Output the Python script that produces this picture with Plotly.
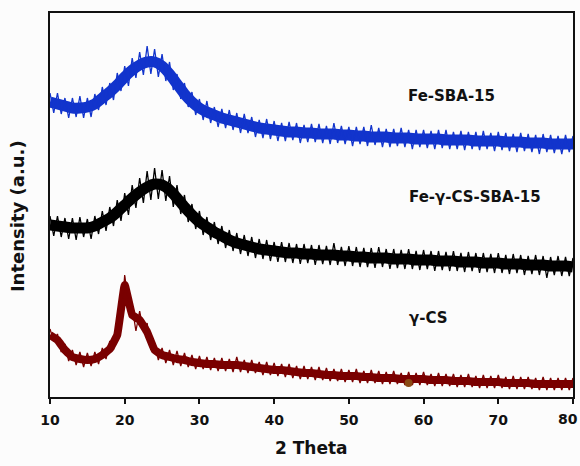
import plotly.graph_objects as go

# measured noisy traces, 0.5 degree steps
two_theta = [10 + 0.5 * i for i in range(141)]

fe_sba15 = [
    304, 284, 304, 283, 299, 279, 299, 280, 301, 279, 299, 280, 303, 287, 310, 292,
    314, 297, 324, 306, 331, 311, 339, 319, 345, 322, 351, 323, 348, 320, 343, 316,
    335, 307, 323, 298, 314, 290, 305, 282, 298, 277, 296, 274, 290, 270, 288, 269,
    287, 267, 284, 264, 283, 264, 280, 260, 277, 259, 278, 258, 276, 256, 274, 256,
    275, 257, 274, 254, 272, 255, 273, 255, 273, 254, 271, 253, 274, 254, 271, 253,
    270, 251, 270, 253, 270, 251, 272, 252, 269, 250, 268, 250, 268, 251, 269, 250,
    267, 248, 267, 250, 267, 249, 266, 248, 267, 249, 267, 248, 265, 248, 266, 247,
    265, 248, 265, 247, 266, 248, 264, 246, 265, 247, 264, 246, 263, 245, 264, 246,
    263, 245, 262, 243, 263, 245, 262, 244, 261, 243, 262, 245, 261,
]

fe_cs_sba15 = [
    181, 161, 181, 160, 179, 158, 179, 157, 180, 160, 178, 158, 181, 163, 186, 166,
    190, 171, 197, 176, 204, 182, 212, 189, 219, 194, 226, 197, 229, 198, 227, 196,
    221, 190, 212, 183, 202, 175, 193, 168, 186, 162, 180, 157, 175, 153, 171, 149,
    167, 146, 164, 143, 162, 141, 160, 139, 158, 138, 157, 136, 155, 135, 155, 135,
    154, 134, 153, 133, 153, 134, 152, 132, 152, 133, 151, 132, 154, 132, 150, 131,
    151, 131, 150, 130, 149, 130, 149, 129, 150, 130, 148, 128, 148, 129, 147, 128,
    148, 128, 146, 127, 147, 128, 146, 126, 146, 127, 145, 126, 146, 126, 144, 125,
    145, 126, 144, 124, 144, 125, 143, 124, 144, 124, 142, 123, 143, 124, 142, 122,
    141, 123, 142, 122, 141, 119, 140, 122, 141, 121, 140, 121, 139,
]

gamma_cs = [
    68, 56, 63, 45, 53, 36, 47, 32, 45, 30, 44, 31, 45, 33, 49, 38,
    56, 47, 70, 74, 122, 92, 90, 66, 86, 66, 74, 47, 54, 37, 49, 34,
    47, 32, 46, 31, 44, 30, 42, 28, 41, 28, 40, 27, 39, 26, 39, 26,
    38, 25, 40, 25, 37, 24, 37, 24, 35, 22, 35, 22, 34, 21, 33, 20,
    33, 19, 31, 18, 31, 18, 30, 17, 30, 17, 29, 16, 28, 16, 28, 15,
    27, 15, 28, 14, 26, 14, 27, 14, 26, 13, 25, 13, 26, 13, 24, 12,
    25, 12, 24, 12, 25, 12, 23, 11, 24, 11, 23, 11, 23, 10, 22, 10,
    23, 10, 21, 9, 22, 9, 21, 9, 22, 9, 20, 8, 21, 8, 20, 8,
    20, 8, 19, 7, 20, 7, 19, 7, 19, 7, 19, 7, 19,
]

# band centre (mean level) read at 1 degree steps
two_theta_c = list(range(10, 81))

fe_sba15_c = [
    295, 293, 291, 289, 289, 290, 293, 299, 305, 312,
    320, 327, 332, 335, 335, 331, 323, 313, 303, 295,
    289, 285, 282, 279, 277, 275, 273, 271, 269, 268,
    267, 266, 265, 265, 264, 264, 263, 263, 263, 262,
    262, 261, 261, 260, 260, 260, 259, 259, 259, 258,
    258, 258, 258, 257, 257, 257, 257, 256, 256, 256,
    256, 255, 255, 255, 254, 254, 254, 253, 253, 253, 253,
]

fe_cs_sba15_c = [
    172, 171, 170, 169, 169, 169, 171, 175, 179, 185,
    192, 199, 205, 210, 213, 212, 207, 199, 190, 182,
    175, 170, 165, 161, 157, 154, 152, 150, 148, 147,
    146, 145, 144, 144, 143, 143, 142, 142, 142, 141,
    141, 140, 140, 139, 139, 139, 138, 138, 138, 137,
    137, 137, 136, 136, 136, 135, 135, 135, 134, 134,
    134, 133, 133, 133, 132, 132, 132, 131, 131, 131, 130,
]

gamma_cs_c = [
    62, 57, 47, 40, 38, 37, 38, 42, 48, 62,
    112, 82, 77, 65, 47, 42, 40, 38, 37, 35,
    34, 33, 33, 32, 32, 32, 31, 30, 29, 28,
    27, 27, 26, 25, 24, 24, 23, 22, 22, 21,
    21, 21, 20, 20, 19, 19, 19, 18, 18, 18,
    18, 17, 17, 17, 16, 16, 16, 15, 15, 15,
    15, 14, 14, 14, 14, 13, 13, 13, 13, 13, 13,
]

spot_x = [58.0]
spot_y = [14]

labels = ["Fe-SBA-15", "Fe-γ-CS-SBA-15", "γ-CS"]
label_x = [63.8, 66.9, 60.6]
label_y = [301, 200, 79]

x_ticks = [10, 20, 30, 40, 50, 60, 70, 80]
x_tick_text = ["10", "20", "30", "40", "50", "60", "70", ""]
last_tick_label = "80"

BLUE = "#1234cc"
BLACK = "#000000"
RED = "#7a0000"
TXT = "#111111"

fig = go.Figure()
series = [
    (fe_sba15_c, fe_sba15, BLUE, 11, 0.6, labels[0]),
    (fe_cs_sba15_c, fe_cs_sba15, BLACK, 11, 0.6, labels[1]),
    (gamma_cs_c, gamma_cs, RED, 8, 0.25, labels[2]),
]
for centre, noisy, col, w, sm, nm in series:
    fig.add_trace(go.Scatter(x=two_theta_c, y=centre, mode="lines",
                             line=dict(color=col, width=w, shape="spline", smoothing=sm),
                             name=nm + " band", hoverinfo="skip"))
    fig.add_trace(go.Scatter(x=two_theta, y=noisy, mode="lines",
                             line=dict(color=col, width=1.3), name=nm))

fig.add_trace(go.Scatter(x=spot_x, y=spot_y, mode="markers",
                         marker=dict(color="#8a4a14", size=8), name="spot"))

for t, xv, yv in zip(labels, label_x, label_y):
    fig.add_annotation(x=xv, y=yv, text="<b>" + t + "</b>", showarrow=False,
                       font=dict(family="DejaVu Sans", size=15, color=TXT),
                       xanchor="center", yanchor="middle")

# last tick label nudged inward so it stays inside the page
fig.add_annotation(x=x_ticks[-1], y=0, xref="x", yref="paper", yshift=-22, xshift=-5,
                   text="<b>" + last_tick_label + "</b>", showarrow=False,
                   font=dict(family="DejaVu Sans", size=14, color=TXT),
                   xanchor="center", yanchor="middle")

fig.add_annotation(x=0.5, y=-0.132, xref="paper", yref="paper",
                   text="<b>2 Theta</b>", showarrow=False,
                   font=dict(family="DejaVu Sans", size=17, color=TXT),
                   xanchor="center", yanchor="middle")
fig.add_annotation(x=-0.062, y=0.47, xref="paper", yref="paper",
                   text="<b>Intensity (a.u.)</b>", showarrow=False, textangle=-90,
                   font=dict(family="DejaVu Sans", size=18, color=TXT),
                   xanchor="center", yanchor="middle")

fig.update_layout(
    width=580, height=466,
    margin=dict(l=50, r=7, t=13, b=69, autoexpand=False),
    paper_bgcolor="#fcfcfc", plot_bgcolor="#fcfcfc",
    showlegend=False,
)
fig.update_xaxes(range=[10, 80], tickvals=x_ticks, ticktext=x_tick_text,
                 ticks="outside", ticklen=5, tickwidth=1.5, tickcolor=TXT,
                 ticklabelstandoff=4, automargin=False,
                 showline=True, linewidth=2, linecolor=TXT, mirror=True,
                 showgrid=False, zeroline=False,
                 tickfont=dict(family="DejaVu Sans", size=14, color=TXT, weight="bold"))
fig.update_yaxes(range=[0, 384], showticklabels=False, ticks="", automargin=False,
                 showline=True, linewidth=2, linecolor=TXT, mirror=True,
                 showgrid=False, zeroline=False)

fig.write_html("out.html")
